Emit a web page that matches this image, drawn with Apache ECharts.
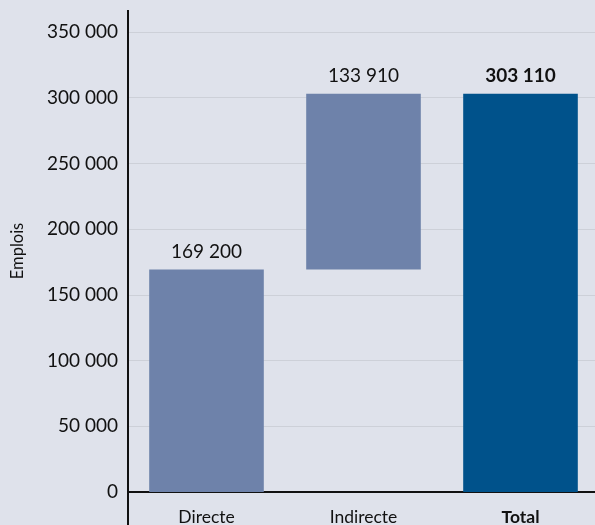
<!DOCTYPE html>
<html>
<head>
<meta charset="utf-8">
<script src="https://cdn.jsdelivr.net/npm/echarts@6/dist/echarts.min.js"></script>
<style>
  html, body { margin: 0; padding: 0; background: #dfe2eb; }
  #chart { width: 595px; height: 525px; }
</style>
</head>
<body>
<div id="chart"></div>
<script>
const categories = ['Directe', 'Indirecte', 'Total'];
const baseValues = [0, 169200, 0];
const shownValues = [169200, 133910, 303110];
const labelTexts = ['169 200', '133 910', '303 110'];
const barColors = ['#6e82aa', '#6e82aa', '#00528b'];
const yTitle = 'Emplois';

const fontFam = 'Lato, "Noto Sans", sans-serif';
const fmt = v => String(v).replace(/\B(?=(\d{3})+(?!\d))/g, ' ');

const chart = echarts.init(document.getElementById('chart'));
chart.setOption({
    backgroundColor: '#dfe2eb',
    animation: false,
    grid: { left: 128, width: 471, top: 32, bottom: 33, outerBoundsMode: 'none', containLabel: false },
    xAxis: {
        type: 'category',
        data: categories,
        axisLine: { lineStyle: { color: '#111', width: 2 } },
        axisTick: { show: false },
        axisLabel: {
            color: '#111', fontSize: 17.5, fontFamily: fontFam, margin: 16,
            formatter: v => v === 'Total' ? '{b|' + v + '}' : v,
            rich: { b: { fontWeight: 'bold', fontSize: 17.5, fontFamily: fontFam, color: '#111' } }
        }
    },
    yAxis: {
        type: 'value',
        min: 0,
        max: 350000,
        interval: 50000,
        axisLine: { show: false },
        axisTick: { show: false },
        axisLabel: { color: '#111', fontSize: 19, fontFamily: fontFam, margin: 10, formatter: fmt },
        splitLine: { lineStyle: { color: '#cdd0d8', width: 1 } }
    },
    graphic: [
        {
            type: 'line',
            shape: { x1: 128, y1: 10, x2: 128, y2: 525 },
            style: { stroke: '#111', lineWidth: 2 },
            z: 10
        },
        {
            type: 'text',
            x: 18,
            y: 251,
            rotation: Math.PI / 2,
            style: {
                text: yTitle,
                fill: '#111',
                fontSize: 16.5,
                fontFamily: fontFam,
                align: 'center',
                verticalAlign: 'middle'
            }
        }
    ],
    series: [
        {
            type: 'bar',
            stack: 'w',
            data: baseValues,
            barWidth: '73%',
            itemStyle: { color: 'transparent' },
            silent: true
        },
        {
            type: 'bar',
            stack: 'w',
            barWidth: '73%',
            data: shownValues.map((v, i) => ({
                value: v,
                itemStyle: { color: barColors[i] },
                label: {
                    show: true,
                    position: 'top',
                    distance: 8,
                    formatter: labelTexts[i],
                    color: '#111',
                    fontSize: 19,
                    fontFamily: fontFam,
                    fontWeight: i === 2 ? 'bold' : 'normal'
                }
            }))
        }
    ]
});
</script>
</body>
</html>
